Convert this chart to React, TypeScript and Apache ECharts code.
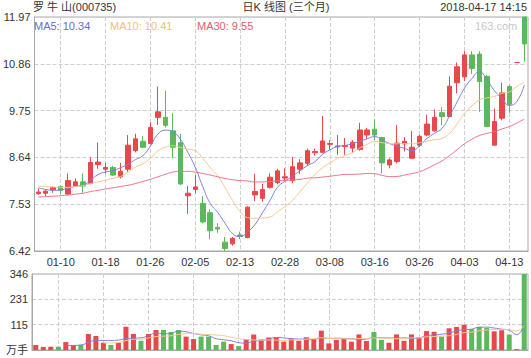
import React, { useEffect, useRef } from 'react';
import * as echarts from 'echarts';

const dates = [
  '01-05', '01-08', '01-09', '01-10', '01-11', '01-12', '01-15', '01-16', '01-17', '01-18',
  '01-19', '01-22', '01-23', '01-24', '01-25', '01-26', '01-29', '01-30', '01-31', '02-01',
  '02-02', '02-05', '02-06', '02-07', '02-08', '02-09', '02-12', '02-13', '02-14', '02-22',
  '02-23', '02-26', '02-27', '02-28', '03-01', '03-02', '03-05', '03-06', '03-07', '03-08',
  '03-09', '03-12', '03-13', '03-14', '03-15', '03-16', '03-19', '03-20', '03-21', '03-22',
  '03-23', '03-26', '03-27', '03-28', '03-29', '03-30', '04-02', '04-03', '04-04', '04-09',
  '04-10', '04-11', '04-12', '04-13', '04-16', '04-17',
];

const opens = [
  7.78, 7.79, 7.87, 7.95, 7.77, 7.96, 8.06, 8.02, 8.47, 8.36,
  8.40, 8.18, 8.36, 8.80, 9.02, 8.97, 9.59, 9.59, 9.27, 8.99,
  7.73, 7.88, 7.55, 7.33, 6.98, 6.63, 6.59, 6.80, 6.74, 7.75,
  7.67, 7.93, 8.04, 8.15, 8.09, 8.36, 8.50, 8.75, 8.76, 8.95,
  8.89, 8.90, 8.86, 8.83, 9.17, 9.31, 9.11, 8.46, 8.54, 8.96,
  8.62, 8.93, 9.17, 9.27, 9.70, 9.61, 10.41, 10.55, 11.07, 11.09,
  10.56, 8.93, 9.57, 10.32, 10.89, 11.97,
];
const closes = [
  7.82, 7.84, 7.92, 7.86, 8.09, 8.06, 7.96, 8.52, 8.53, 8.40,
  8.22, 8.31, 8.93, 9.08, 8.88, 9.35, 9.72, 9.40, 8.88, 8.01,
  7.79, 7.94, 7.11, 6.90, 6.94, 6.48, 6.72, 6.77, 7.46, 7.83,
  7.88, 8.17, 8.32, 8.18, 8.42, 8.51, 8.80, 8.78, 9.03, 8.97,
  8.91, 8.92, 9.00, 9.29, 9.29, 9.17, 8.51, 8.58, 8.98, 9.02,
  8.88, 9.14, 9.43, 9.59, 9.61, 10.33, 10.79, 11.07, 10.75, 10.44,
  9.37, 9.49, 10.17, 9.90, 10.89, 11.33,
];
const lows = [
  7.75, 7.72, 7.80, 7.76, 7.74, 7.94, 7.80, 8.00, 8.37, 8.26,
  8.20, 8.14, 8.30, 8.76, 8.86, 8.95, 9.41, 9.35, 8.62, 7.98,
  7.30, 7.79, 7.08, 6.70, 6.85, 6.42, 6.55, 6.70, 6.72, 7.60,
  7.59, 7.90, 8.00, 8.06, 8.03, 8.25, 8.45, 8.68, 8.74, 8.82,
  8.70, 8.70, 8.75, 8.80, 9.08, 9.05, 8.26, 8.38, 8.50, 8.78,
  8.60, 8.88, 9.14, 9.25, 9.40, 9.60, 10.16, 10.45, 10.62, 9.72,
  9.37, 8.93, 9.52, 9.70, 10.89, 10.91,
];
const highs = [
  7.90, 7.88, 7.95, 7.97, 8.26, 8.14, 8.26, 8.64, 8.99, 8.51,
  8.44, 8.51, 9.17, 9.20, 9.15, 9.47, 10.32, 10.22, 9.69, 9.20,
  7.96, 8.22, 7.72, 7.41, 7.08, 6.75, 6.75, 6.88, 7.48, 8.25,
  8.01, 8.26, 8.37, 8.38, 8.65, 8.60, 8.85, 8.85, 9.62, 9.05,
  9.17, 9.10, 9.05, 9.46, 9.34, 9.54, 9.13, 8.62, 9.41, 9.12,
  9.27, 9.18, 9.65, 9.78, 9.83, 10.56, 10.89, 11.16, 11.16, 11.16,
  10.60, 9.80, 10.41, 10.35, 10.89, 11.97,
];

// 成交量 (万手)
const volumes = [
  23, 14, 15, 15, 36, 23, 24, 73, 64, 33,
  23, 33, 106, 73, 42, 73, 91, 91, 82, 91,
  61, 50, 61, 61, 23, 38, 27, 18, 50, 71,
  48, 57, 59, 38, 53, 42, 58, 46, 88, 30,
  46, 53, 38, 71, 41, 82, 46, 33, 71, 42,
  71, 58, 86, 83, 61, 99, 105, 115, 95, 105,
  100, 85, 90, 70, 4, 346,
];

// moving-average values before enough history exists in this window
const ma5Head = [7.92, 7.88, 7.86, 7.87];
const ma10Head = [7.96, 7.95, 7.94, 7.93, 7.93, 7.95, 7.97, 8.02, 8.06];
const ma30Head = [
  7.70, 7.71, 7.72, 7.73, 7.75, 7.77, 7.79, 7.83, 7.86, 7.89,
  7.92, 7.95, 7.98, 8.02, 8.07, 8.12, 8.18, 8.24, 8.29, 8.31,
  8.31, 8.29, 8.26, 8.22, 8.18, 8.14, 8.11, 8.09, 8.08,
];

const priceTicks = ['6.42', '7.53', '8.64', '9.75', '10.86', '11.97'];
const volTicks = ['万手', '115', '231', '346'];
const labelDates = ['01-10', '01-18', '01-26', '02-05', '02-13', '02-28', '03-08', '03-16', '03-26', '04-03', '04-13'];
const maLegend = ['MA5: 10.34', 'MA10: 10.41', 'MA30: 9.55'];
const titleLeft = '罗 牛 山(000735)';
const titleCenter = '日K 线图 (三个月)';
const titleRight = '2018-04-17 14:15';

const UP = '#e8474b';
const DOWN = '#5cb85c';
const MA5C = '#7f7fdc';
const MA10C = '#f5c98f';
const MA30C = '#ea7484';
const FONT = 'Arial, "Liberation Sans", "Noto Sans CJK SC", sans-serif';

function movingAvg(vals: number[], n: number, head: (number | null)[]) {
  return vals.map((_, i) => {
    if (i < n - 1) return i < head.length ? head[i] : null;
    let s = 0;
    for (let k = i - n + 1; k <= i; k++) s += vals[k];
    return +(s / n).toFixed(3);
  });
}

export default function App() {
  const ref = useRef<HTMLDivElement>(null);
  useEffect(() => {
    const chart = echarts.init(ref.current!, null, { renderer: 'svg' });
    const labelIdx = new Set(labelDates.map((d) => dates.indexOf(d)));
    const showIdx = (i: number) => labelIdx.has(i);
    const candle = dates.map((_, i) => [opens[i], closes[i], lows[i], highs[i]]);
    const isUp = (i: number) =>
      closes[i] > opens[i] || (closes[i] === opens[i] && (i === 0 || closes[i] >= closes[i - 1]));
    const volData = volumes.map((v, i) => ({ value: v, itemStyle: { color: isUp(i) ? UP : DOWN } }));
    const ma5 = movingAvg(closes, 5, ma5Head);
    const ma10 = movingAvg(closes, 10, ma10Head);
    const ma30 = movingAvg(closes, 30, ma30Head);
    const vma5 = movingAvg(volumes, 5, []);
    const vma10 = movingAvg(volumes, 10, []);

    const splitX = {
      show: true,
      interval: showIdx,
      alignWithLabel: true,
      lineStyle: { type: 'dashed', color: '#cfcfcf', width: 1 },
    };
    const dashedY = { show: true, lineStyle: { type: 'dashed', color: '#cfcfcf', width: 1 } };

    const option: any = {
      animation: false,
      backgroundColor: '#ffffff',
      textStyle: { fontFamily: FONT },
      grid: [
        { left: 32, right: 3, top: 17, height: 234, show: true, borderColor: '#a8a8a8', borderWidth: 1 },
        { left: 32, right: 3, top: 274, height: 76, show: true, borderColor: '#a8a8a8', borderWidth: 1 },
      ],
      xAxis: [
        {
          type: 'category', gridIndex: 0, data: dates, boundaryGap: true,
          axisLine: { show: true, lineStyle: { color: '#a8a8a8' } },
          axisTick: { show: false },
          axisLabel: { interval: showIdx, color: '#333', fontSize: 11, margin: 5, fontFamily: FONT },
          splitLine: splitX,
        },
        {
          type: 'category', gridIndex: 1, data: dates, boundaryGap: true,
          axisLine: { show: true, lineStyle: { color: '#a8a8a8' } },
          axisTick: { show: false },
          axisLabel: { show: false },
          splitLine: splitX,
        },
      ],
      yAxis: [
        { type: 'value', gridIndex: 0, min: 6.42, max: 11.97, show: false, position: 'right', splitLine: { show: false } },
        {
          type: 'value', gridIndex: 0, min: 0, max: 5, interval: 1, position: 'left',
          axisLine: { show: true, lineStyle: { color: '#a8a8a8' } },
          axisTick: { show: false },
          axisLabel: { color: '#333', fontSize: 11, margin: 4, fontFamily: FONT, formatter: (v: number) => priceTicks[Math.round(v)] },
          splitLine: dashedY,
        },
        { type: 'value', gridIndex: 1, min: 0, max: 346, show: false, position: 'right', splitLine: { show: false } },
        {
          type: 'value', gridIndex: 1, min: 0, max: 3, interval: 1, position: 'left',
          axisLine: { show: true, lineStyle: { color: '#a8a8a8' } },
          axisTick: { show: false },
          axisLabel: { color: '#333', fontSize: 11, margin: 4, fontFamily: FONT, formatter: (v: number) => volTicks[Math.round(v)] },
          splitLine: dashedY,
        },
      ],
      series: [
        {
          type: 'candlestick', xAxisIndex: 0, yAxisIndex: 0, data: candle, barWidth: 5,
          itemStyle: { color: UP, color0: DOWN, borderColor: UP, borderColor0: DOWN, borderWidth: 1 },
        },
        { type: 'line', xAxisIndex: 0, yAxisIndex: 0, data: ma5, smooth: true, showSymbol: false, lineStyle: { color: MA5C, width: 1 } },
        { type: 'line', xAxisIndex: 0, yAxisIndex: 0, data: ma10, smooth: true, showSymbol: false, lineStyle: { color: MA10C, width: 1 } },
        { type: 'line', xAxisIndex: 0, yAxisIndex: 0, data: ma30, smooth: true, showSymbol: false, lineStyle: { color: MA30C, width: 1 } },
        { type: 'bar', xAxisIndex: 1, yAxisIndex: 2, data: volData, barWidth: 5 },
        { type: 'line', xAxisIndex: 1, yAxisIndex: 2, data: vma5, smooth: true, showSymbol: false, lineStyle: { color: MA5C, width: 1 } },
        { type: 'line', xAxisIndex: 1, yAxisIndex: 2, data: vma10, smooth: true, showSymbol: false, lineStyle: { color: MA10C, width: 1 } },
      ],
      graphic: [
        { type: 'text', left: 33, top: 1, style: { text: titleLeft, fill: '#333', fontSize: 11, fontFamily: FONT } },
        { type: 'text', x: 286, y: 1, style: { text: titleCenter, fill: '#333', fontSize: 11, fontFamily: FONT, textAlign: 'center' } },
        { type: 'text', right: 4, top: 1, style: { text: titleRight, fill: '#333', fontSize: 11, fontFamily: FONT } },
        { type: 'text', left: 34, top: 20, style: { text: maLegend[0], fill: '#6b6bd4', fontSize: 11, fontFamily: FONT } },
        { type: 'text', left: 110, top: 20, style: { text: maLegend[1], fill: '#f0c46c', fontSize: 11, fontFamily: FONT } },
        { type: 'text', left: 197, top: 20, style: { text: maLegend[2], fill: '#e0606e', fontSize: 11, fontFamily: FONT } },
        { type: 'text', left: 475, top: 20, style: { text: '163.com', fill: '#c8c8c8', fontSize: 11, fontFamily: FONT } },
      ],
    };
    chart.setOption(option);
    return () => chart.dispose();
  }, []);
  return (
    <div
      ref={ref}
      style={{ position: 'absolute', left: 0, top: 0, width: 531, height: 358, background: '#fff' }}
    />
  );
}
